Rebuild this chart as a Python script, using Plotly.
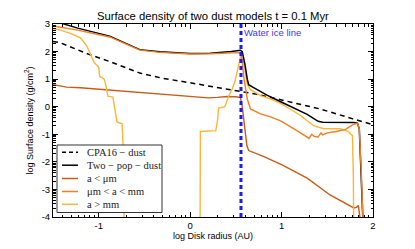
import numpy as np
import plotly.graph_objects as go

# ---------------- data (log10 radius [AU], log10 surface density [g/cm^2]) -------------
cpa_x = [-1.5, -1.42, -1.1, -0.88, -0.55, -0.3, -0.11, 0.22, 0.55, 0.73, 0.98, 1.42, 1.78, 2.0]
cpa_y = [2.37, 2.32, 1.89, 1.64, 1.22, 1.03, 0.93, 0.75, 0.56, 0.45, 0.26, -0.08, -0.44, -0.65]

two_x = [-1.5, -1.42, -1.23, -0.88, -0.55, -0.33, 0.0, 0.22, 0.45, 0.55, 0.57, 0.60, 0.625,
         0.64, 0.69, 0.84, 0.99, 1.28, 1.40, 1.45, 1.79, 1.83, 1.85, 1.87, 1.885, 1.9]
two_y = [3.18, 3.04, 2.85, 2.56, 2.07, 1.99, 1.93, 1.94, 2.0, 2.05, 2.0, 1.53, 1.0,
         0.8, 0.7, 0.42, 0.18, -0.28, -0.53, -0.56, -0.57, -0.6, -0.8, -2.2, -3.3, -5]

small_x = [-1.5, -1.35, -1.2, -1.05, -0.9, -0.75, -0.6, -0.45, -0.3, -0.15, 0.0, 0.1, 0.2,
           0.3, 0.4, 0.5, 0.55, 0.57, 0.6, 0.62, 0.64, 0.8, 1.0, 1.28, 1.53, 1.79, 1.82,
           1.84, 1.86, 1.87]
small_y = [0.8, 0.71, 0.69, 0.65, 0.61, 0.56, 0.53, 0.49, 0.46, 0.42, 0.38, 0.34, 0.32,
           0.34, 0.37, 0.36, 0.33, 0.0, -0.9, -1.4, -1.59, -1.8, -2.1, -2.59, -3.2, -3.67,
           -3.65, -3.58, -4.1, -5]

mid_x = [-1.5, -1.23, -0.88, -0.55, -0.33, 0.0, 0.22, 0.45, 0.53, 0.56, 0.59, 0.625, 0.66,
         0.77, 0.88, 0.99, 1.1, 1.2, 1.3, 1.33, 1.36, 1.4, 1.43, 1.45, 1.5, 1.6, 1.7, 1.78,
         1.83, 1.85, 1.87, 1.885, 1.9]
mid_y = [2.93, 2.78, 2.53, 2.05, 1.97, 1.91, 1.92, 1.95, 1.96, 1.9, 1.0, 0.28, -0.08,
         -0.26, -0.37, -0.51, -0.72, -0.93, -1.15, -1.0, -1.08, -1.1, -0.95, -1.02, -0.95,
         -0.9, -0.82, -0.65, -0.6, -0.8, -2.2, -3.3, -5]

big_x = [-1.5, -1.42, -1.31, -1.2, -1.13, -1.08, -1.05, -1.02, -1.0, -0.99, -0.94, -0.92,
         -0.9, -0.845, -0.83, -0.80, -0.745, -0.735, -0.725, -0.722, None,
         0.108, 0.112, 0.28, 0.30, 0.31, 0.38, 0.417, 0.46, 0.49, 0.515, 0.537, 0.556,
         0.58, 0.60, 0.625, 0.66, 0.77, 0.88, 0.99, 1.2, 1.35, 1.46, 1.64, 1.73, 1.775,
         1.785, 1.79]
big_y = [2.84, 2.78, 2.66, 2.5, 2.2, 1.82, 1.6, 1.5, 1.44, 1.1, 1.0, 0.75,
         0.38, 0.35, 0.0, -0.55, -0.62, -1.16, -2.0, -5, None,
         -5, -0.9, -0.87, -0.5, -0.05, 0.0, 0.35, 0.64, 0.92, 1.28, 1.7, 1.89,
         1.7, 1.24, 0.81, 0.62, 0.4, 0.28, 0.12, -0.3, -0.69, -0.8, -0.8, -0.9, -1.05,
         -2.5, -5]

ice_x = 0.556

x_ticks = [-1, 0, 1, 2]
x_ticklabels = ["-1", "0", "1", "2"]
y_ticks = [3, 2, 1, 0, -1, -2, -3, -4]
y_ticklabels = ["3", "2", "1", "0", "-1", "-2", "-3", "-4"]

names = ["CPA16 \u2212 dust", "Two \u2212 pop \u2212 dust", "a < \u03bcm",
         "\u03bcm < a < mm", "a > mm"]

# ---------------- style ----------------
C_SMALL = "#cc5a14"
C_MID = "#f47e22"
C_BIG = "#fdb53a"
SANS = "Liberation Sans, Arial, sans-serif"
SERIF = "Liberation Serif, DejaVu Serif, serif"

fig = go.Figure()
fig.add_trace(go.Scatter(x=cpa_x, y=cpa_y, mode="lines",
                         line=dict(color="black", width=1.5, dash="5px,4px")))
fig.add_trace(go.Scatter(x=small_x, y=small_y, mode="lines",
                         line=dict(color=C_SMALL, width=1.4)))
fig.add_trace(go.Scatter(x=big_x, y=big_y, mode="lines", connectgaps=False,
                         line=dict(color=C_BIG, width=1.4)))
fig.add_trace(go.Scatter(x=two_x, y=two_y, mode="lines",
                         line=dict(color="black", width=1.5)))
fig.add_trace(go.Scatter(x=mid_x, y=mid_y, mode="lines",
                         line=dict(color=C_MID, width=1.4)))
fig.add_trace(go.Scatter(x=[ice_x, ice_x], y=[-4, 3], mode="lines",
                         line=dict(color="#1a1aff", width=3, dash="4px,3px")))

def minor_vals(lo, hi):
    out = []
    for n in range(int(np.floor(lo)) - 1, int(np.ceil(hi)) + 1):
        for k in range(2, 10):
            v = n + np.log10(k)
            if lo < v < hi:
                out.append(float(v))
    return out

axis_common = dict(showgrid=False, zeroline=False, showline=True, linecolor="black",
                   linewidth=1, mirror="ticks", ticks="inside", ticklen=5,
                   tickcolor="black", automargin=False,
                   tickfont=dict(family=SANS, size=9.5, color="black"))

fig.update_xaxes(range=[-1.5, 2], tickmode="array", tickvals=x_ticks,
                 ticktext=x_ticklabels,
                 minor=dict(tickmode="array", tickvals=minor_vals(-1.5, 2), ticks="inside",
                            ticklen=2.5, tickcolor="black"),
                 title=dict(text="log Disk radius (AU)", standoff=2,
                            font=dict(family=SANS, size=9, color="black")),
                 **axis_common)
fig.update_yaxes(range=[-4, 3], tickmode="array", tickvals=y_ticks,
                 ticktext=y_ticklabels,
                 minor=dict(tickmode="array", tickvals=minor_vals(-4, 3), ticks="inside",
                            ticklen=2.5, tickcolor="black"),
                 title=dict(text="log Surface density (g/cm<sup>2</sup>)", standoff=6,
                            font=dict(family=SANS, size=9, color="black")),
                 **axis_common)

# ---------------- custom legend ----------------
L, T, B = 53, 24, 217
W, H = 320, 193
def px(x):
    return (x - L) / W
def py(y):
    return (B - y) / H

fig.add_shape(type="rect", xref="paper", yref="paper", x0=px(57), x1=px(162),
              y0=py(212.5), y1=py(145), line=dict(color="#333333", width=1),
              fillcolor="white", layer="above")
leg_styles = [dict(color="black", width=1.5, dash="4px,3px"),
              dict(color="black", width=1.5),
              dict(color=C_SMALL, width=1.5),
              dict(color=C_MID, width=1.5),
              dict(color=C_BIG, width=1.5)]
leg_y = [152.3, 165.2, 178.5, 191.5, 204.3]
for nm, st, yy in zip(names, leg_styles, leg_y):
    fig.add_shape(type="line", xref="paper", yref="paper", x0=px(62), x1=px(78),
                  y0=py(yy), y1=py(yy), line=st, layer="above")
    fig.add_annotation(xref="paper", yref="paper", x=px(85), y=py(yy), text=nm,
                       showarrow=False, xanchor="left", yanchor="middle",
                       font=dict(family=SERIF, size=10.5, color="#222222"))

fig.add_annotation(x=ice_x, y=2.68, xref="x", yref="y", text="Water ice line",
                   showarrow=False, xanchor="left", yanchor="middle", xshift=1,
                   font=dict(family=SANS, size=9.5, color="#3b3bff"))

fig.update_layout(
    width=415, height=249,
    margin=dict(l=53, r=42, t=24, b=32),
    paper_bgcolor="white", plot_bgcolor="white",
    showlegend=False,
    title=dict(text="Surface density of two dust models t = 0.1 Myr", x=0.513,
               xanchor="center", y=0.935, yanchor="middle",
               font=dict(family=SANS, size=11.3, color="black")),
)

fig.write_html("out.html", config={"displayModeBar": False},
               post_script="document.body.style.margin='0px';document.body.style.overflow='hidden';")
